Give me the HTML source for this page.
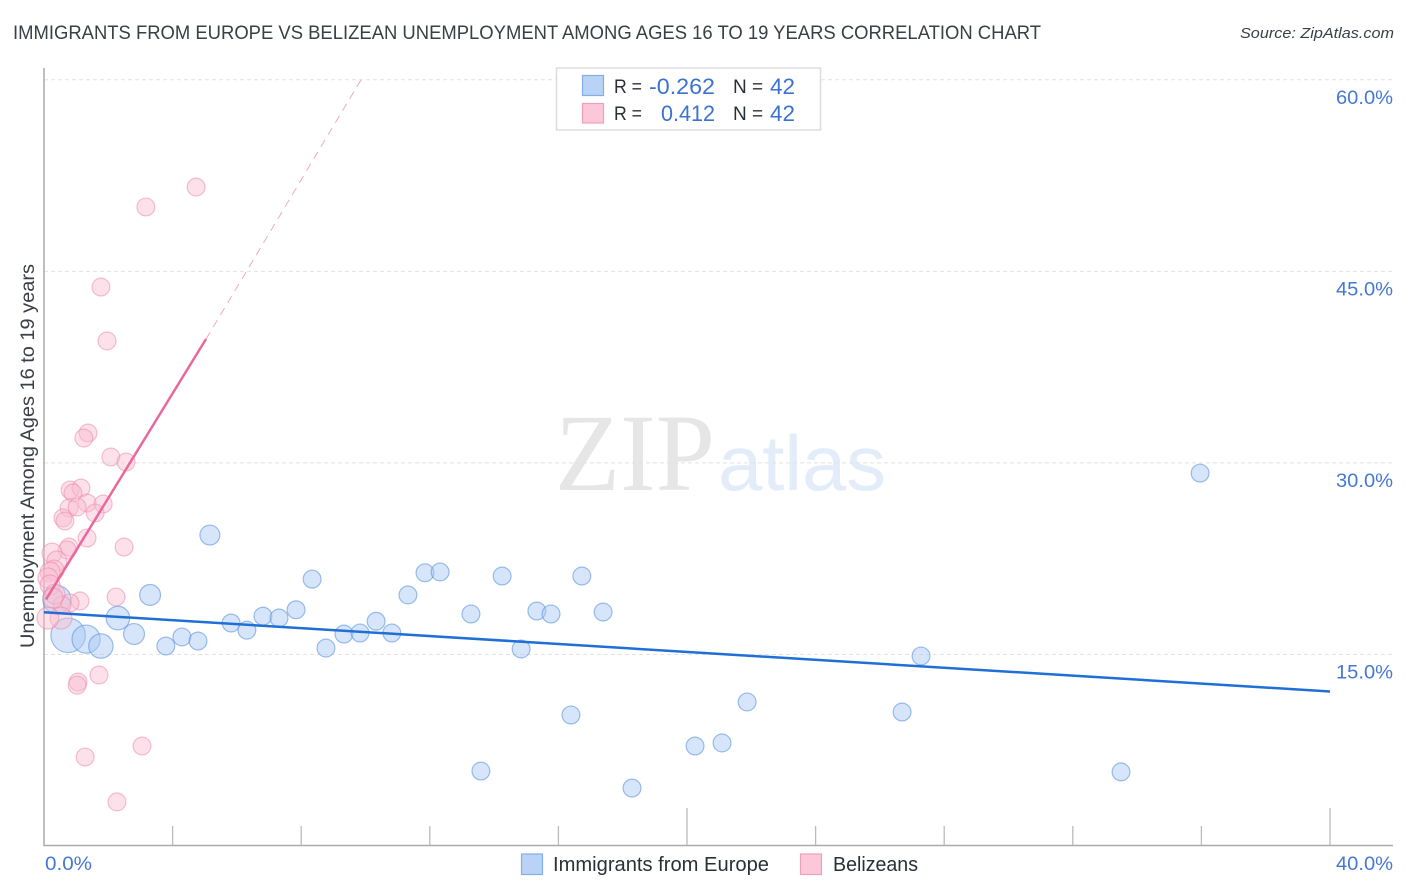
<!DOCTYPE html>
<html lang="en">
<head>
<meta charset="utf-8">
<title>Immigrants from Europe vs Belizean Unemployment Correlation Chart</title>
<style>
html,body{margin:0;padding:0;background:#fff;width:1406px;height:892px;overflow:hidden}
svg{display:block}
text{font-family:"Liberation Sans",sans-serif}
</style>
</head>
<body>
<svg id="chart" xmlns="http://www.w3.org/2000/svg" width="1406" height="892" viewBox="0 0 1406 892">
  <text x="13" y="39" font-size="19" fill="#3a3e45" textLength="1028" lengthAdjust="spacingAndGlyphs">IMMIGRANTS FROM EUROPE VS BELIZEAN UNEMPLOYMENT AMONG AGES 16 TO 19 YEARS CORRELATION CHART</text>
  <text x="1394" y="38" font-size="15" font-style="italic" fill="#3a3f47" text-anchor="end" textLength="154" lengthAdjust="spacingAndGlyphs">Source: ZipAtlas.com</text>

  <g>
    <text x="555" y="490" font-size="110" fill="#e6e6e6" textLength="160" lengthAdjust="spacingAndGlyphs" style="font-family:'Liberation Serif',serif">ZIP</text>
    <text x="718" y="490" font-size="78" fill="#e3ecf9" textLength="168" lengthAdjust="spacingAndGlyphs">atlas</text>
  </g>

  <g id="grid"></g>
  <g id="axes"></g>
  <g id="europe-points"></g>
  <g id="belizean-points"></g>
  <g id="trends"></g>
  <g id="y-ticks"></g>
  <g id="x-ticks"></g>

  <text transform="translate(34,456) rotate(-90)" font-size="19" fill="#3a3e45" text-anchor="middle" textLength="384" lengthAdjust="spacingAndGlyphs">Unemployment Among Ages 16 to 19 years</text>

  <g>
    <rect x="556.5" y="68" width="264" height="62" fill="#fff" stroke="#dddddd" stroke-width="1.5"/>
    <rect x="582.5" y="75.5" width="21" height="20" fill="#b9d3f6" stroke="#84aee6" stroke-width="1.2"/>
    <rect x="582.5" y="103.5" width="21" height="19.5" fill="#fcc8d9" stroke="#ee9fb9" stroke-width="1.2"/>
    <text x="614" y="93" font-size="19" fill="#2b2f36" textLength="28" lengthAdjust="spacingAndGlyphs">R =</text>
    <text x="715" y="94" font-size="22" fill="#3b72d2" text-anchor="end" textLength="66" lengthAdjust="spacingAndGlyphs">-0.262</text>
    <text x="733" y="93" font-size="19" fill="#2b2f36">N =</text>
    <text x="770" y="94" font-size="22" fill="#3b72d2" textLength="25" lengthAdjust="spacingAndGlyphs">42</text>
    <text x="614" y="120" font-size="19" fill="#2b2f36" textLength="28" lengthAdjust="spacingAndGlyphs">R =</text>
    <text x="715" y="121" font-size="22" fill="#3b72d2" text-anchor="end" textLength="54" lengthAdjust="spacingAndGlyphs">0.412</text>
    <text x="733" y="120" font-size="19" fill="#2b2f36">N =</text>
    <text x="770" y="121" font-size="22" fill="#3b72d2" textLength="25" lengthAdjust="spacingAndGlyphs">42</text>
  </g>

  <g>
    <rect x="521.5" y="854" width="21" height="20.5" fill="#b9d3f6" stroke="#84aee6" stroke-width="1.2"/>
    <text x="553" y="871" font-size="20" fill="#2b2f36" textLength="216" lengthAdjust="spacingAndGlyphs">Immigrants from Europe</text>
    <rect x="800.5" y="854" width="21" height="20.5" fill="#fcc8d9" stroke="#ee9fb9" stroke-width="1.2"/>
    <text x="833" y="871" font-size="20" fill="#2b2f36" textLength="85" lengthAdjust="spacingAndGlyphs">Belizeans</text>
  </g>
</svg>

<script>
const yTickValues = [15, 30, 45, 60];
const yTickLabels = ["15.0%", "30.0%", "45.0%", "60.0%"];
const xTickValues = [0, 4, 8, 12, 16, 20, 24, 28, 32, 36, 40];
const xMajorTicks = [20, 40];
const xEndValues = [0, 40];
const xEndLabels = ["0.0%", "40.0%"];

const europeX = [35.96, 5.16, 3.30, 2.30, 2.80, 0.75, 1.31, 1.77, 0.40, 3.79, 4.29, 4.79, 5.82, 6.31, 6.81, 7.31, 7.84, 8.34, 8.77, 9.33, 9.83, 10.33, 10.82, 11.32, 11.85, 12.32, 13.28, 13.59, 14.25, 14.84, 15.33, 15.77, 16.39, 16.73, 17.39, 18.29, 20.25, 21.09, 21.87, 26.69, 27.28, 33.50];
const europeY = [29.2, 24.35, 19.66, 17.85, 16.6, 16.5, 16.2, 15.66, 19.3, 15.66, 16.37, 16.05, 17.46, 16.9, 18.0, 17.85, 18.5, 20.9, 15.5, 16.6, 16.68, 17.6, 16.68, 19.66, 21.4, 21.46, 18.17, 5.87, 21.14, 15.43, 18.4, 18.17, 10.26, 21.14, 18.32, 4.54, 7.83, 8.07, 11.28, 10.49, 14.88, 5.8];
const europeWeight = [8, 10, 11, 14, 11, 30, 20, 15, 20, 8, 8, 8, 8, 8, 8, 8, 8, 8, 8, 8, 8, 8, 8, 8, 8, 8, 8, 8, 8, 8, 8, 8, 8, 8, 8, 8, 8, 8, 8, 8, 8, 8];

const belizeanX = [4.73, 3.17, 1.77, 1.96, 1.37, 1.24, 2.08, 2.55, 0.81, 1.15, 0.90, 1.34, 0.78, 1.03, 1.84, 1.59, 0.59, 0.65, 1.34, 2.49, 0.78, 0.72, 0.25, 0.40, 0.31, 0.19, 0.12, 0.19, 1.12, 0.81, 2.24, 0.56, 0.34, 0.28, 0.53, 0.12, 1.71, 1.06, 1.03, 3.05, 1.28, 2.27];
const belizeanY = [51.6, 50.04, 43.77, 39.55, 32.34, 31.95, 30.46, 30.07, 27.88, 28.03, 27.64, 26.86, 26.47, 26.55, 26.78, 26.08, 25.69, 25.45, 24.12, 23.41, 23.41, 23.18, 22.94, 22.32, 21.61, 21.46, 20.99, 20.44, 19.19, 19.03, 19.5, 18.87, 19.73, 19.42, 17.85, 17.85, 13.39, 12.84, 12.6, 7.83, 6.97, 3.45];
const belizeanWeight = [8, 8, 8, 8, 8, 8, 8, 8, 8, 8, 8, 8, 8, 8, 8, 8, 8, 8, 8, 8, 8, 8, 10, 10, 10, 10, 10, 10, 8, 8, 8, 8, 10, 10, 12, 12, 8, 8, 8, 8, 8, 8];

const europeTrendX = [0, 40];
const europeTrendY = [18.3, 12.1];
const belizeanTrendX = [0.06, 5.04];
const belizeanTrendY = [19.3, 39.7];
const belizeanExtensionX = [5.04, 9.86];
const belizeanExtensionY = [39.7, 60];

const NS = "http://www.w3.org/2000/svg";
const xScale = v => 44 + v * 32.15;
const yScale = v => 846 - v * 12.77;
const rScale = w => 3.15 * Math.sqrt(w);

function make(tag, parentId, attrs, text) {
  const el = document.createElementNS(NS, tag);
  for (const k in attrs) el.setAttribute(k, attrs[k]);
  if (text !== undefined) el.textContent = text;
  document.getElementById(parentId).appendChild(el);
  return el;
}

yTickValues.forEach((v, i) => {
  const line = make("line", "grid", {x1: 44, x2: 1393, y1: yScale(v), y2: yScale(v), stroke: "#e2e2e2", "stroke-width": 1, "stroke-dasharray": "4 3"});
  
  
  const label = make("text", "y-ticks", {x: 1393, y: yScale(v) + 24, "font-size": 19, fill: "#4578d4", "text-anchor": "end", textLength: 57, lengthAdjust: "spacingAndGlyphs"}, yTickLabels[i]);
  
  
});

const axisLeft = make("line", "axes", {x1: 44, x2: 44, y1: 68, y2: 846, stroke: "#aaaaaa", "stroke-width": 1.5});


const axisBottom = make("line", "axes", {x1: 44, x2: 1393, y1: 845.5, y2: 845.5, stroke: "#aaaaaa", "stroke-width": 1.5});



xTickValues.forEach(v => {
  if (v === 0) return;
  const top = xMajorTicks.includes(v) ? 808 : 826;
  const tick = make("line", "axes", {x1: xScale(v), x2: xScale(v), y1: top, y2: 845, stroke: "#bbbbbb", "stroke-width": 1.3});
  
  
});

xEndValues.forEach((v, i) => {
  const left = v === 0;
  const label = make("text", "x-ticks", {x: left ? 45 : 1393, y: 870, "font-size": 19, fill: "#4578d4", "text-anchor": left ? "start" : "end", textLength: left ? 47 : 57, lengthAdjust: "spacingAndGlyphs"}, xEndLabels[i]);
  
  
});

europeX.forEach((v, i) => {
  const c = make("circle", "europe-points", {cx: xScale(v), cy: yScale(europeY[i]), r: rScale(europeWeight[i]), fill: "#a9c9f2", "fill-opacity": 0.48, stroke: "#5d95de", "stroke-opacity": 0.6, "stroke-width": 1.2});
  
  
});

belizeanX.forEach((v, i) => {
  const c = make("circle", "belizean-points", {cx: xScale(v), cy: yScale(belizeanY[i]), r: rScale(belizeanWeight[i]), fill: "#f9bcd0", "fill-opacity": 0.45, stroke: "#ec8dab", "stroke-opacity": 0.55, "stroke-width": 1.2});
  
  
});

const europeTrend = make("line", "trends", {x1: xScale(europeTrendX[0]), y1: yScale(europeTrendY[0]), x2: xScale(europeTrendX[1]), y2: yScale(europeTrendY[1]), stroke: "#1f6fd6", "stroke-width": 2.5});


const belizeanTrend = make("line", "trends", {x1: xScale(belizeanTrendX[0]), y1: yScale(belizeanTrendY[0]), x2: xScale(belizeanTrendX[1]), y2: yScale(belizeanTrendY[1]), stroke: "#e8699a", "stroke-width": 2.5});


const belizeanExtension = make("line", "trends", {x1: xScale(belizeanExtensionX[0]), y1: yScale(belizeanExtensionY[0]), x2: xScale(belizeanExtensionX[1]), y2: yScale(belizeanExtensionY[1]), stroke: "#f0a8c2", "stroke-width": 1, "stroke-dasharray": "8 6"});


</script>
</body>
</html>
